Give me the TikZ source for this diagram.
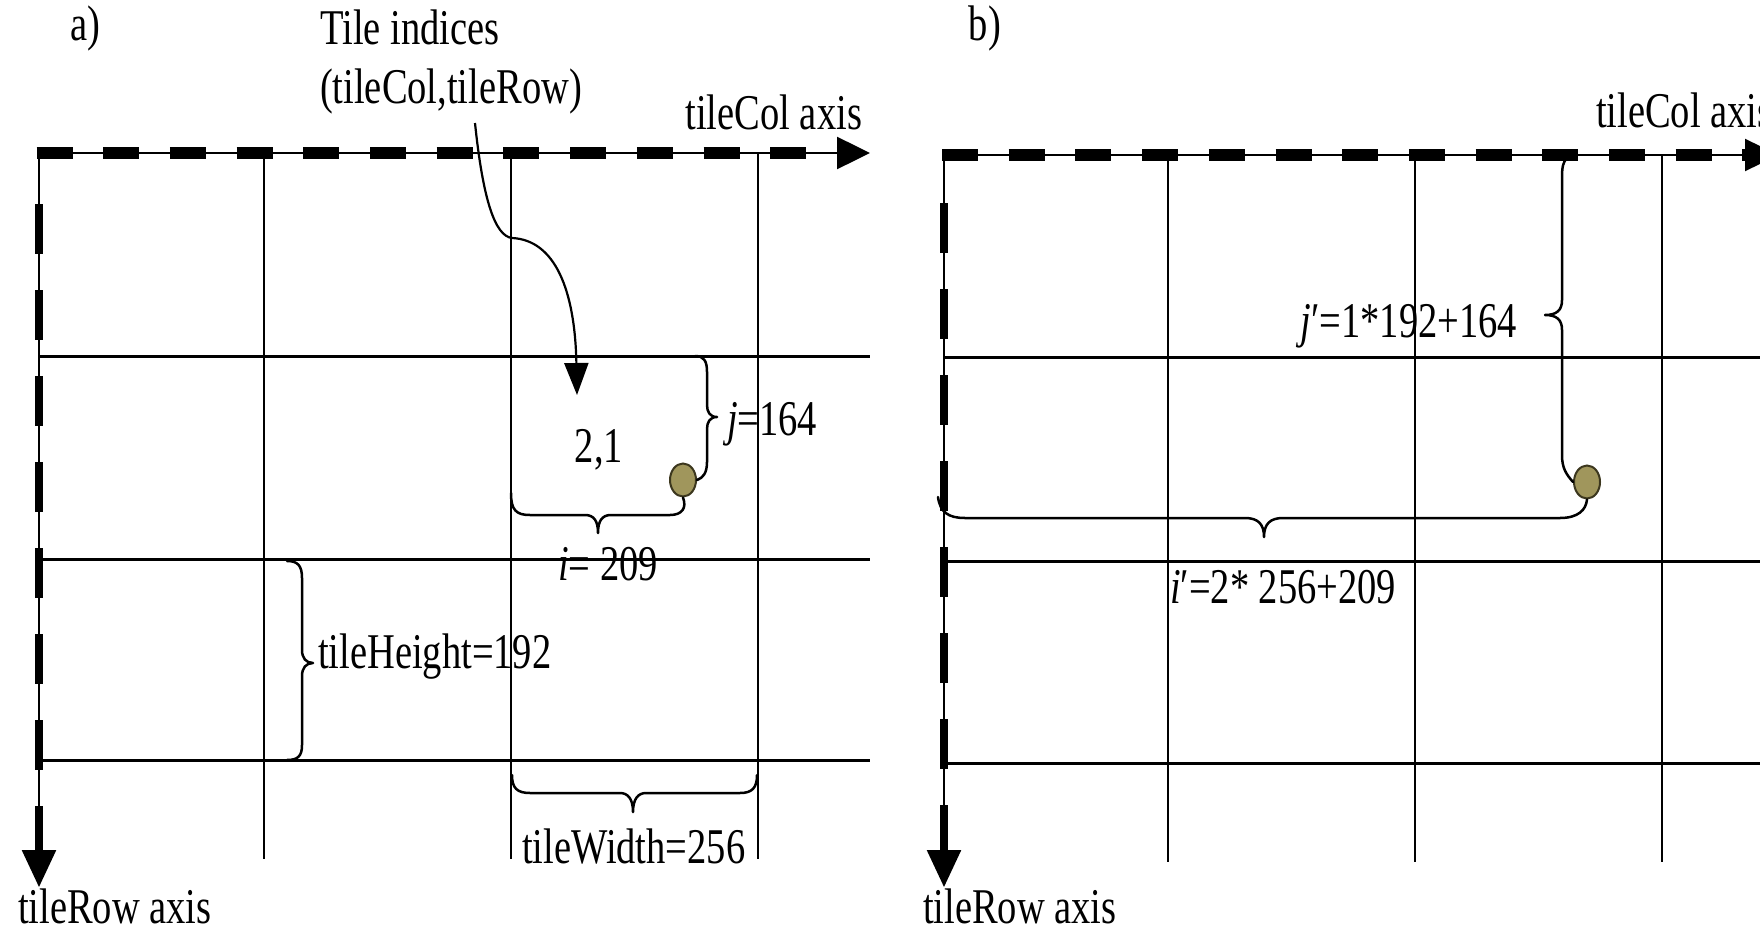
\documentclass[tikz,border=0pt]{standalone}
\usepackage{fontspec}
\usetikzlibrary{arrows.meta,shapes.geometric}
\newfontfamily\lblfont[FakeStretch=0.77]{Liberation Serif}
\definecolor{dotfill}{RGB}{160,150,92}
\definecolor{dotline}{RGB}{60,55,30}
\begin{document}
\begin{tikzpicture}[x=1pt,y=-1pt,
  lab/.style={font=\lblfont\fontsize{50}{54}\selectfont, inner sep=0pt, outer sep=0pt},
  vgrid/.style={line width=2.2pt},
  hgrid/.style={line width=3pt},
  haxis/.style={line width=2.5pt, -{Triangle[length=33pt,width=32pt]}},
  vaxis/.style={line width=2.5pt, -{Triangle[length=37pt,width=34pt]}},
  hdash/.style={line width=12pt, dash pattern=on 36pt off 30.7pt},
  vdash/.style={line width=8pt, dash pattern=on 50pt off 36pt},
  brc/.style={line width=2.5pt, line join=round, line cap=round},
  dotnode/.style={ellipse, draw=dotline, line width=2pt, fill=dotfill, minimum width=26pt, minimum height=33pt, inner sep=0pt},
  ptr/.style={line width=2.2pt, -{Triangle[length=32pt,width=24pt]}}]
\useasboundingbox (0,0) rectangle (1760,931);

% ---------------- panel a ----------------
\coordinate (aO) at (39,153);
\coordinate (aX) at (870,153);
\coordinate (aY) at (39,887);
% grid
\foreach \x in {264,511,758} \draw[vgrid] (\x,153) -- (\x,859);
\foreach \y in {356,559,760} \draw[hgrid] (39,\y) -- (870,\y);
% axes
\draw[haxis] (aO) -- (aX);
\draw[hdash] (36.5,153) -- (837,153);
\draw[vaxis] (aO) -- (aY);
\draw[vdash] (39,204) -- (39,852);

% labels
\node[lab, anchor=base] (la) at (85,41) {a)};
\node[lab, anchor=base] (tidx) at (410,45) {Tile indices};
\node[lab, anchor=base] (tcr) at (451,103) {(tileCol,tileRow)};
\node[lab, anchor=base east] (acol) at (862,129) {tileCol axis};
\node[lab, anchor=base west] (arow) at (18,923) {tileRow axis};
\node[lab, anchor=base] (cell) at (599,462) {2,1};
\node[lab, anchor=base west] (jl) at (727,435) {\textit{j}=164};
\node[lab, anchor=base west] (il) at (558,580) {\textit{i}= 209};
\node[lab, anchor=base west] (thl) at (318,668) {tileHeight=192};
\node[lab, anchor=base west] (twl) at (522,863) {tileWidth=256};

% point
\node[dotnode] (pa) at (683,480) {};

% pointer arrow
\coordinate (arS) at (475,123);
\coordinate (arM) at (512,238);
\coordinate (arE) at (577,395);
\draw[ptr] (arS) .. controls (483,200) and (495,236) .. (arM)
  .. controls (555,240) and (575,290) .. (arE);

% braces panel a
\draw[brc] (511,493) .. controls (511,510) and (516,515) .. (530,515) -- (585,515)
  .. controls (594,515) and (598,521) .. (598,533)
  .. controls (598,521) and (602,515) .. (611,515) -- (670,515)
  .. controls (682,515) and (687,508) .. (pa.south);
\draw[brc] (695,356) .. controls (704,356) and (707,361) .. (707,372) -- (707,405)
  .. controls (707,412) and (710,417) .. (717,417)
  .. controls (710,417) and (707,422) .. (707,429) -- (707,462)
  .. controls (707,473) and (703,478) .. (pa.east);
\draw[brc] (287,561) .. controls (298,561) and (302,566) .. (302,578) -- (302,650)
  .. controls (302,658) and (306,663) .. (313,663)
  .. controls (306,663) and (302,668) .. (302,676) -- (302,745)
  .. controls (302,756) and (298,760) .. (287,760);
\draw[brc] (512,775) .. controls (512,788) and (517,793) .. (530,793) -- (620,793)
  .. controls (628,793) and (633,799) .. (633,812)
  .. controls (633,799) and (638,793) .. (646,793) -- (740,793)
  .. controls (752,793) and (757,788) .. (757,775);

% ---------------- panel b ----------------
\coordinate (bO) at (944,155);
\coordinate (bX) at (1778,155);
\coordinate (bY) at (944,887);
\foreach \x in {1168,1415,1662} \draw[vgrid] (\x,155) -- (\x,862);
\foreach \y in {357,561,763} \draw[hgrid] (944,\y) -- (1760,\y);
\draw[haxis] (bO) -- (bX);
\draw[hdash] (942,155) -- (1745,155);
\draw[vaxis] (bO) -- (bY);
\draw[vdash] (944,203) -- (944,852);

\node[lab, anchor=base] (lb) at (985,41) {b)};
\node[lab, anchor=base west] (bcol) at (1596,128) {tileCol axis};
\node[lab, anchor=base west] (brow) at (923,923) {tileRow axis};
\node[lab, anchor=base east] (jpl) at (1517,337) {\textit{j}′=1*192+164};
\node[lab, anchor=base west] (ipl) at (1170,603) {\textit{i}′=2* 256+209};

\node[dotnode] (pb) at (1587,482) {};

\draw[brc] (1567,158) .. controls (1563,162) and (1562,167) .. (1562,178) -- (1562,300)
  .. controls (1562,310) and (1557,315) .. (1545,315)
  .. controls (1557,315) and (1562,320) .. (1562,330) -- (1562,455)
  .. controls (1562,468) and (1566,474) .. (pb.west);
\draw[brc] (938,497) .. controls (940,512) and (948,518) .. (965,518) -- (1245,518)
  .. controls (1258,518) and (1264,524) .. (1264,537)
  .. controls (1264,524) and (1270,518) .. (1283,518) -- (1560,518)
  .. controls (1578,518) and (1586,510) .. (pb.south);
\end{tikzpicture}
\end{document}
